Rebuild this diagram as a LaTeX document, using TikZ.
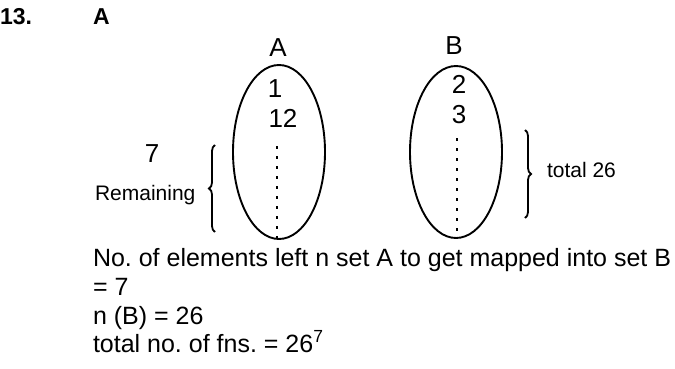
\documentclass[tikz,border=0pt]{standalone}
\usepackage{fontspec}
\setmainfont{Liberation Sans}
\usetikzlibrary{decorations.pathreplacing}
\frenchspacing
\begin{document}
\begin{tikzpicture}[x=1pt,y=-1pt,
  txt/.style={inner sep=0pt,outer sep=0pt},
  setell/.style={draw,line width=1.9pt},
  dotline/.style={line width=2.4pt,dash pattern=on 3pt off 7pt},
  bracestyle/.style={line width=1.8pt,decorate,decoration={brace,amplitude=6pt}},
  big/.style={txt,font=\fontsize{26}{30}\selectfont},
  body/.style={txt,anchor=base west,font=\fontsize{25}{30}\selectfont},
  small/.style={txt,font=\fontsize{21}{25}\selectfont},
  head/.style={txt,anchor=base west,font=\fontsize{23}{27}\selectfont\bfseries}]
\clip (0,0) rectangle (675,369);
\fill[white] (0,0) rectangle (675,369);
% headings
\node[head] (num) at (0,25) {13.};
\node[head] (ans) at (93,25) {A};
% sets
\draw[setell] (279,152) ellipse [x radius=46, y radius=87];
\draw[setell] (456,152) ellipse [x radius=46, y radius=86];
\node[big,anchor=base] (labA) at (278,57) {A};
\node[big,anchor=base] (labB) at (454,55) {B};
\node[big,anchor=base] (a1) at (275,97) {1};
\node[big,anchor=base] (a12) at (283,127) {12};
\node[big,anchor=base] (b2) at (459,93) {2};
\node[big,anchor=base] (b3) at (459,123) {3};
\coordinate (aTop) at (277,146);
\coordinate (aBot) at (277,240);
\coordinate (bTop) at (457,138);
\coordinate (bBot) at (457,238);
\draw[dotline] (aTop) -- (aBot);
\draw[dotline] (bTop) -- (bBot);
% braces
\coordinate (lbB) at (215,232);
\coordinate (lbT) at (215,145);
\draw[bracestyle] (lbB) -- (lbT);
\coordinate (rbT) at (525,130);
\coordinate (rbB) at (525,218);
\draw[bracestyle] (rbT) -- (rbB);
\node[big,anchor=base] (seven) at (152,162) {7};
\node[small,anchor=base west] (rem) at (95,200) {Remaining};
\node[small,anchor=base west] (tot) at (547,177) {total 26};
% body text
\node[body] (l1) at (93,266) {No. of elements left n set A to get mapped into set B};
\node[body] (l2) at (93,295) {= 7};
\node[body] (l3) at (93,324) {n (B) = 26};
\node[body] (l4) at (93,352) {total no. of fns. = 26\textsuperscript{7}};
\end{tikzpicture}
\end{document}
